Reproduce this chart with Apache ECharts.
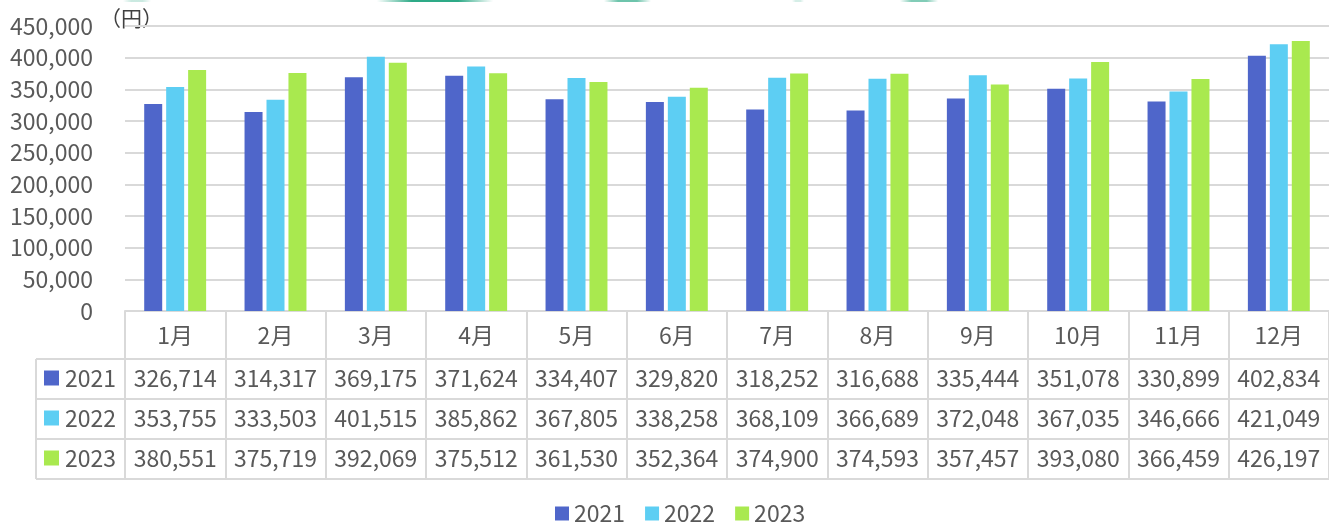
<!DOCTYPE html>
<html>
<head>
<meta charset="utf-8">
<script src="https://cdn.jsdelivr.net/npm/echarts@6/dist/echarts.min.js"></script>
<style>
  html, body { margin: 0; padding: 0; background: #fff; }
  #chart { width: 1329px; height: 524px; }
</style>
</head>
<body>
<div id="chart"></div>
<script>
// データ
const months = ['1月', '2月', '3月', '4月', '5月', '6月', '7月', '8月', '9月', '10月', '11月', '12月'];
const years = ['2021', '2022', '2023'];
const v2021 = [326714, 314317, 369175, 371624, 334407, 329820, 318252, 316688, 335444, 351078, 330899, 402834];
const v2022 = [353755, 333503, 401515, 385862, 367805, 338258, 368109, 366689, 372048, 367035, 346666, 421049];
const v2023 = [380551, 375719, 392069, 375512, 361530, 352364, 374900, 374593, 357457, 393080, 366459, 426197];
const rows = [v2021, v2022, v2023];

const colors = ['#4F66CA', '#5DCEF3', '#A9E94F'];
const textColor = '#595959';
const lineColor = '#D9D9D9';
const font = '"Noto Sans CJK JP", "Noto Sans", sans-serif';
const fs = 23;
const fmt = v => v.toLocaleString('en-US');

// 表のレイアウト
const gridLeft = 125, gridTop = 26, axisY = 311;
const headerMid = 335;
const rowTop = [359, 399, 439];
const rowH = 40;
const tableLeft = 36, tableRight = 1329;

// 上端の飾り（切れた円弧）
const deco = [[123, 151, 0.25], [377, 493, 1], [604, 651, 0.7], [792, 804, 0.2], [900, 938, 0.6]];

const graphics = [
  { type: 'text', left: 100, top: 8, style: { text: '（円）', font: '21px ' + font, fill: '#404040' } },
  // 表頭左の縦線
  { type: 'line', shape: { x1: tableLeft, y1: rowTop[0], x2: tableLeft, y2: rowTop[0] + rowH * 3 }, style: { stroke: lineColor, lineWidth: 2 } }
];
deco.forEach(([x1, x2, a]) => {
  graphics.push({
    type: 'rect', shape: { x: x1, y: 0, width: x2 - x1, height: 2 },
    style: {
      opacity: a,
      fill: new echarts.graphic.LinearGradient(0, 0, 1, 0, [
        { offset: 0, color: 'rgba(46,170,135,0)' },
        { offset: 0.3, color: 'rgba(46,170,135,1)' },
        { offset: 0.7, color: 'rgba(46,170,135,1)' },
        { offset: 1, color: 'rgba(46,170,135,0)' }
      ])
    }
  });
});
[...rowTop, rowTop[0] + rowH * 3].forEach(y => {
  graphics.push({ type: 'line', shape: { x1: tableLeft, y1: y, x2: tableRight, y2: y }, style: { stroke: lineColor, lineWidth: 2 } });
});
years.forEach((name, i) => {
  const cy = rowTop[i] + rowH / 2 - 1;
  graphics.push({ type: 'rect', shape: { x: 44, y: cy - 7.5, width: 15, height: 15 }, style: { fill: colors[i] } });
  graphics.push({ type: 'text', x: 65, y: cy, style: { text: name, font: fs + 'px ' + font, fill: textColor, textVerticalAlign: 'middle' } });
});

const option = {
  animation: false,
  textStyle: { fontFamily: font },
  color: colors,
  grid: { left: gridLeft, right: 0, top: gridTop, bottom: 524 - axisY },
  legend: {
    left: 550, top: 497, itemWidth: 14, itemHeight: 14, itemGap: 20, icon: 'rect',
    textStyle: { fontSize: fs, color: textColor, fontFamily: font },
    data: years
  },
  xAxis: [
    {
      type: 'category', data: months,
      axisLine: { lineStyle: { color: lineColor, width: 2 } },
      axisTick: { show: true, length: 168, interval: 0, lineStyle: { color: lineColor, width: 2 } },
      axisLabel: { interval: 0, margin: headerMid - axisY, verticalAlign: 'middle', fontSize: fs, color: textColor, fontFamily: font }
    },
    ...rows.map((arr, i) => ({
      type: 'category', data: arr.map(fmt), position: 'bottom',
      axisLine: { show: false }, axisTick: { show: false },
      axisLabel: { interval: 0, margin: rowTop[i] + rowH / 2 - 1 - axisY, verticalAlign: 'middle', fontSize: fs, color: textColor, fontFamily: font }
    }))
  ],
  yAxis: {
    type: 'value', min: 0, max: 450000, interval: 50000,
    axisLine: { show: false }, axisTick: { show: false },
    axisLabel: { margin: 32, fontSize: fs, color: textColor, fontFamily: font, formatter: v => fmt(v) },
    splitLine: { lineStyle: { color: lineColor, width: 2 } }
  },
  series: years.map((name, i) => ({
    name, type: 'bar', data: rows[i], xAxisIndex: 0,
    barWidth: 18, barGap: '22%'
  })),
  graphic: graphics
};

const myChart = echarts.init(document.getElementById('chart'));
myChart.setOption(option);
</script>
</body>
</html>
